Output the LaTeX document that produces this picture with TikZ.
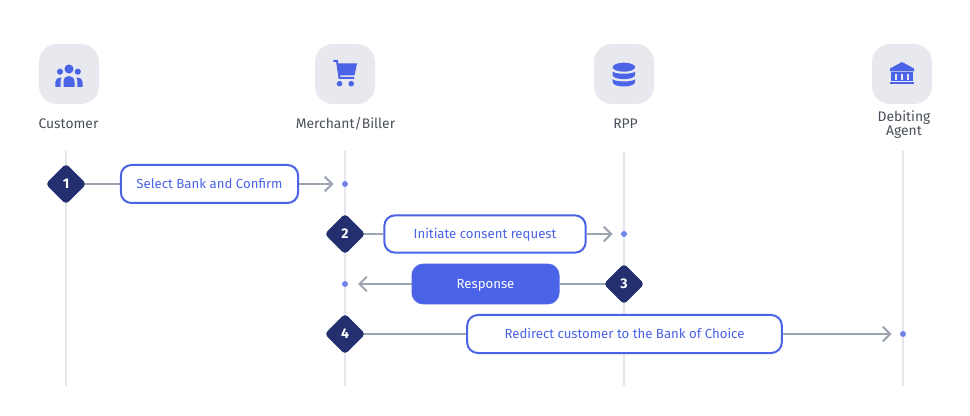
\documentclass[tikz,border=0pt]{standalone}
\usepackage{fontspec}
\setmainfont{Fira Sans}
\usetikzlibrary{arrows.meta,shapes.geometric,backgrounds}
\definecolor{bluemain}{HTML}{4A63E7}
\definecolor{navy}{HTML}{232F6F}
\definecolor{lifeline}{HTML}{E5E6EC}
\definecolor{iconbg}{HTML}{E8E9EE}
\definecolor{linegrey}{HTML}{9DA5B1}
\definecolor{dotblue}{HTML}{6F83EB}
\definecolor{labelgrey}{HTML}{4A4F5C}
\tikzset{
  x=0.75pt,y=-0.75pt,
  iconbox/.style={fill=iconbg,rounded corners=13.5pt,minimum size=45pt,inner sep=0pt},
  actor/.style={font=\fontsize{10.4pt}{10.6pt}\selectfont,text=labelgrey,align=center,inner sep=0pt},
  life/.style={draw=lifeline,line width=1.5pt},
  stepdia/.style={diamond,fill=navy,draw=navy,line width=2pt,rounded corners=2pt,minimum size=28.5pt,inner sep=0pt,text=white,font=\fontsize{10.5pt}{12pt}\selectfont\bfseries},
  msg/.style={draw=bluemain,line width=1.5pt,fill=white,rounded corners=8pt,inner sep=0pt,text=bluemain,text height=7.5pt,text depth=0.4pt,font=\fontsize{9.9pt}{11pt}\selectfont},
  msgfill/.style={msg,fill=bluemain,text=white},
  conn/.style={draw=linegrey,line width=1.5pt},
  arr/.style={conn,-{Straight Barb[length=5.5pt,width=11pt,line width=1.5pt]}},
  dot/.style={circle,fill=dotblue,minimum size=4.5pt,inner sep=0pt},
  ic/.style={fill=bluemain,draw=none},
}
\begin{document}
\begin{tikzpicture}
\useasboundingbox (0,0) rectangle (970,416);
% icon tiles
\node[iconbox] (tileA) at (69,74) {};
\node[iconbox] (tileB) at (345,74) {};
\node[iconbox] (tileC) at (624,74) {};
\node[iconbox] (tileD) at (902,74) {};
% actor labels
\node[actor] (labA) at (68.5,124) {Customer};
\node[actor] (labB) at (345.5,124) {Merchant/Biller};
\node[actor] (labC) at (625.5,124) {RPP};
\node[actor] (labD) at (904,124.5) {Debiting\\Agent};
% step diamonds
\node[stepdia] (s1) at (66,184) {1};
\node[stepdia] (s2) at (345,234) {2};
\node[stepdia] (s3) at (624,284) {3};
\node[stepdia] (s4) at (345,334) {4};
% message boxes
\node[msg,minimum width=133pt,minimum height=28.5pt] (m1) at (209.5,184) {Select Bank and Confirm};
\node[msg,minimum width=151pt,minimum height=28pt] (m2) at (485,234) {Initiate consent request};
\node[msgfill,minimum width=109.5pt,minimum height=29pt] (m3) at (485.5,284) {Response};
\node[msg,minimum width=236pt,minimum height=28.5pt] (m4) at (624.5,334) {Redirect customer to the Bank of Choice};
% dots
\node[dot] (e1) at (345,184) {};
\node[dot] (e2) at (624,234) {};
\node[dot] (e3) at (345,284) {};
\node[dot] (e4) at (903,334) {};
\coordinate (t1) at (333.5,184);
\coordinate (t2) at (612.5,234);
\coordinate (t3) at (358,284);
\coordinate (t4) at (891.5,334);
% lifelines
\coordinate (a0) at (66,151); \coordinate (a1) at (66,386);
\coordinate (b0) at (345,151); \coordinate (b1) at (345,386);
\coordinate (c0) at (624,151); \coordinate (c1) at (624,386);
\coordinate (d0) at (903,151); \coordinate (d1) at (903,386);
\begin{scope}[on background layer]
\draw[life] (a0) -- (a1);
\draw[life] (b0) -- (b1);
\draw[life] (c0) -- (c1);
\draw[life] (d0) -- (d1);
% connectors
\draw[conn] (s1.center) -- (m1);
\draw[arr] (m1) -- (t1);
\draw[conn] (s2.center) -- (m2);
\draw[arr] (m2) -- (t2);
\draw[conn] (s3.center) -- (m3);
\draw[arr] (m3) -- (t3);
\draw[conn] (s4.center) -- (m4);
\draw[arr] (m4) -- (t4);
\end{scope}
% customer icon
\fill[ic] (69,69) circle (3.4pt);
\fill[ic] (60,71.7) circle (2.3pt);
\fill[ic] (77.8,71.7) circle (2.3pt);
\fill[ic] (63.5,87) -- (63.5,82) .. controls (63.5,78) and (66,76) .. (69,76) .. controls (72,76) and (74.5,78) .. (74.5,82) -- (74.5,87) -- cycle;
\fill[ic] (55.3,87) -- (55.3,82) .. controls (55.3,79.5) and (57.5,77.7) .. (61.5,77.5) .. controls (60.5,79) and (60.6,81) .. (60.6,87) -- cycle;
\fill[ic] (82.7,87) -- (82.7,82) .. controls (82.7,79.5) and (80.5,77.7) .. (76.5,77.5) .. controls (77.5,79) and (77.4,81) .. (77.4,87) -- cycle;
% cart icon
\draw[bluemain,line width=1.5pt] (333.3,61) -- (337,61) -- (339.5,78) -- (354.3,78);
\fill[ic] (337.5,63.3) -- (357,63.3) -- (354.5,75.5) -- (339.5,75.5) -- cycle;
\fill[ic] (339.5,83.7) circle (2.1pt);
\fill[ic] (351.2,83.7) circle (2.1pt);
% database icon
\fill[ic] (612.7,67.2) arc[start angle=180,end angle=360,x radius=11.2,y radius=4.5] arc[start angle=0,end angle=180,x radius=11.2,y radius=4.5] -- cycle;
\fill[ic] (612.7,71.5) .. controls (615,74.5) and (633,74.5) .. (635,71.5) -- (635,75) .. controls (635,80.5) and (612.7,80.5) .. (612.7,75) -- cycle;
\fill[ic] (612.7,79.2) .. controls (615,82.2) and (633,82.2) .. (635,79.2) -- (635,82) .. controls (635,88) and (612.7,88) .. (612.7,82) -- cycle;
% bank icon
\fill[ic] (902,62) -- (914,68.5) -- (914,71.3) -- (890,71.3) -- (890,68.5) -- cycle;
\fill[ic] (891,72.2) rectangle (913,81.5);
\fill[ic] (890,81.7) rectangle (914,84.4);
\fill[iconbg] (894.8,73.6) rectangle (896.8,79.8);
\fill[iconbg] (901,73.6) rectangle (903,79.8);
\fill[iconbg] (907.4,73.6) rectangle (909.4,79.8);
\end{tikzpicture}
\end{document}
